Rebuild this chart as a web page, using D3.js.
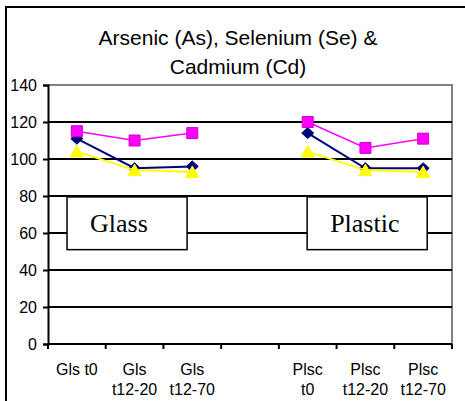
<!doctype html>
<html>
<head>
<meta charset="utf-8">
<title>Arsenic, Selenium & Cadmium</title>
<script src="https://d3js.org/d3.v7.min.js"></script>
<style>
  body { margin: 0; background: #fff; }
  svg { display: block; }
</style>
</head>
<body>
<script>
// chart data
var categories = ["Gls t0", "Gls t12-20", "Gls t12-70", "", "Plsc t0", "Plsc t12-20", "Plsc t12-70"];
var labelLines = [["Gls t0"], ["Gls", "t12-20"], ["Gls", "t12-70"], [], ["Plsc", "t0"], ["Plsc", "t12-20"], ["Plsc", "t12-70"]];
var navyValues = [111, 95, 96, null, 114, 95, 95];
var magentaValues = [115, 110, 114, null, 120, 106, 111];
var yellowValues = [104, 94, 93, null, 104, 94, 93];
var yTicks = [0, 20, 40, 60, 80, 100, 120, 140];
var titleLines = ["Arsenic (As), Selenium (Se) &", "Cadmium (Cd)"];
var boxLabels = ["Glass", "Plastic"];

var vizWidth = 465,
    vizHeight = 401,
    margin = {top: 85, right: 13, bottom: 57, left: 48};

var viz = d3.select("body").append("svg")
    .attr("width", vizWidth)
    .attr("height", vizHeight);

// outer frame (only left + top edges show)
viz.append("path")
    .attr("d", "M6," + vizHeight + " V7 H" + vizWidth)
    .attr("fill", "none")
    .attr("stroke", "#000")
    .attr("stroke-width", 2);

var x = d3.scaleBand()
    .domain(categories.map(function(d, i) { return i; }))
    .range([margin.left, vizWidth - margin.right]);

var y = d3.scaleLinear()
    .domain([0, 140])
    .range([vizHeight - margin.bottom, margin.top]);

var bw = x.bandwidth();
var cx = function(i) { return x(i) + bw / 2; };

// title
viz.append("g").selectAll("text")
    .data(titleLines)
    .enter().append("text")
    .attr("x", 238)
    .attr("y", function(d, i) { return 45 + i * 28.5; })
    .attr("text-anchor", "middle")
    .attr("font-family", "Liberation Sans, Arial, sans-serif")
    .attr("font-size", "21px")
    .attr("fill", "#000")
    .text(function(d) { return d; });

// plot area border (grey, top + right)
viz.append("path")
    .attr("d", "M" + margin.left + "," + y(140) + " H" + (vizWidth - margin.right) + " V" + y(0))
    .attr("fill", "none")
    .attr("stroke", "#808080")
    .attr("stroke-width", 2);

// gridlines
viz.append("g").selectAll("line")
    .data(yTicks.filter(function(t) { return t > 0 && t < 140; }))
    .enter().append("line")
    .attr("x1", margin.left)
    .attr("x2", vizWidth - margin.right)
    .attr("y1", function(d) { return y(d); })
    .attr("y2", function(d) { return y(d); })
    .attr("stroke", "#000")
    .attr("stroke-width", 2);

// y axis
var yAxis = viz.append("g")
    .attr("transform", "translate(" + margin.left + ",0)")
    .call(d3.axisLeft(y).tickValues(yTicks).tickSize(5).tickPadding(6));
yAxis.select(".domain").attr("stroke-width", 2);
yAxis.selectAll(".tick line").attr("stroke-width", 2);
yAxis.selectAll("text")
    .attr("font-family", "Liberation Sans, Arial, sans-serif")
    .attr("font-size", "16px")
    .attr("fill", "#000");

// x axis
var xAxisG = viz.append("g");
xAxisG.append("line")
    .attr("x1", margin.left)
    .attr("x2", vizWidth - margin.right)
    .attr("y1", y(0))
    .attr("y2", y(0))
    .attr("stroke", "#000")
    .attr("stroke-width", 2);
xAxisG.selectAll("line.tk")
    .data(d3.range(categories.length + 1))
    .enter().append("line")
    .attr("class", "tk")
    .attr("x1", function(i) { return margin.left + i * bw; })
    .attr("x2", function(i) { return margin.left + i * bw; })
    .attr("y1", y(0))
    .attr("y2", y(0) + 5)
    .attr("stroke", "#000")
    .attr("stroke-width", 2);
xAxisG.selectAll("text")
    .data(labelLines)
    .enter().append("text")
    .attr("x", function(d, i) { return cx(i); })
    .attr("y", 375)
    .attr("text-anchor", "middle")
    .attr("font-family", "Liberation Sans, Arial, sans-serif")
    .attr("font-size", "16px")
    .attr("fill", "#000")
    .each(function(lines) {
      var t = d3.select(this);
      lines.forEach(function(l, k) {
        t.append("tspan")
          .attr("x", t.attr("x"))
          .attr("dy", k === 0 ? 0 : 20)
          .text(l);
      });
    });

// annotation boxes (band units / value units)
var boxes = [
  {label: boxLabels[0], x0: 0.33, x1: 2.41, top: 79.5, bottom: 51},
  {label: boxLabels[1], x0: 4.49, x1: 6.57, top: 79.5, bottom: 51}
];
var bx = viz.append("g").selectAll("g")
    .data(boxes)
    .enter().append("g");
bx.append("rect")
    .attr("x", function(d) { return margin.left + d.x0 * bw; })
    .attr("y", function(d) { return y(d.top); })
    .attr("width", function(d) { return (d.x1 - d.x0) * bw; })
    .attr("height", function(d) { return y(d.bottom) - y(d.top); })
    .attr("fill", "#fff")
    .attr("stroke", "#000")
    .attr("stroke-width", 1.5);
bx.append("text")
    .attr("x", function(d) { return margin.left + d.x0 * bw + 23; })
    .attr("y", y(60.5))
    .attr("font-family", "Liberation Serif, Times New Roman, serif")
    .attr("font-size", "26px")
    .attr("fill", "#000")
    .text(function(d) { return d.label; });

// series
var series = [
  {values: navyValues, color: "#000080", stroke: "#000080", width: 2, shape: "diamond"},
  {values: magentaValues, color: "#FF00FF", stroke: "#CC00CC", width: 1.5, shape: "square"},
  {values: yellowValues, color: "#FFFF00", stroke: "#FFFF00", width: 2, shape: "triangle"}
];

var line = d3.line()
    .defined(function(d) { return d != null; })
    .x(function(d, i) { return cx(i); })
    .y(function(d) { return y(d); });

function markerPath(shape) {
  if (shape === "square") return "M-5.5,-5.5H5.5V5.5H-5.5Z";
  if (shape === "diamond") return "M0,-5.5L6,0L0,5.5L-6,0Z";
  return "M0,-6L6.5,5.5H-6.5Z";
}

series.forEach(function(s) {
  var g = viz.append("g");
  g.append("path")
    .datum(s.values)
    .attr("d", line)
    .attr("fill", "none")
    .attr("stroke", s.color)
    .attr("stroke-width", s.width);
  g.selectAll("path.mk")
    .data(s.values.map(function(v, i) { return {v: v, i: i}; }).filter(function(d) { return d.v != null; }))
    .enter().append("path")
    .attr("class", "mk")
    .attr("transform", function(d) { return "translate(" + cx(d.i) + "," + y(d.v) + ")"; })
    .attr("d", markerPath(s.shape))
    .attr("fill", s.color)
    .attr("stroke", s.stroke)
    .attr("stroke-width", 1);
});
</script>
</body>
</html>
